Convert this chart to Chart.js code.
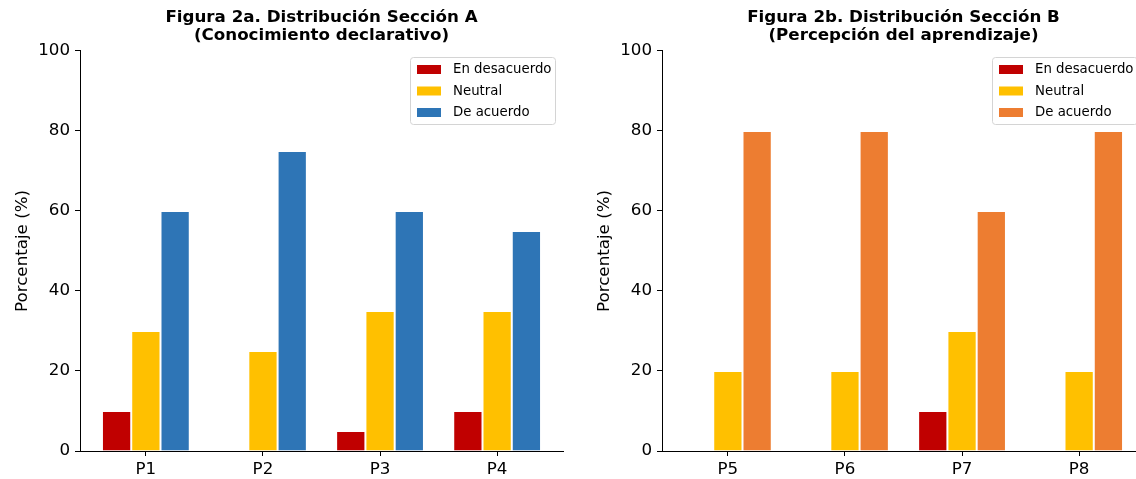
<!DOCTYPE html>
<html>
<head>
<meta charset="utf-8">
<script src="https://cdn.jsdelivr.net/npm/chart.js@4.4.1/dist/chart.umd.min.js"></script>
<style>
body{margin:0;width:1136px;height:479px;overflow:hidden;background:#fff;position:relative}
.box{position:absolute;top:0;width:600px;height:479px}
#boxA{left:0}
#boxB{left:582px}
</style>
</head>
<body>
<div class="box" id="boxA"><canvas id="chartA" width="600" height="479"></canvas></div>
<div class="box" id="boxB"><canvas id="chartB" width="600" height="479"></canvas></div>
<script>
// datos
const seriesLabels=["En desacuerdo","Neutral","De acuerdo"];
const yTicks=[0,20,40,60,80,100];

const categoriesA=["P1","P2","P3","P4"];
const desacuerdoA=[10,0,5,10];
const neutralA=[30,25,35,35];
const acuerdoA=[60,75,60,55];
const colorsA=["#C00000","#FFC000","#2E75B6"];

const categoriesB=["P5","P6","P7","P8"];
const desacuerdoB=[0,0,10,0];
const neutralB=[20,20,30,20];
const acuerdoB=[80,80,60,80];
const colorsB=["#C00000","#FFC000","#ED7D31"];

Chart.defaults.font.family="'DejaVu Sans'";
Chart.defaults.color="#000";

// leyenda tipo matplotlib, dentro del area
const legendBox={
    id:"legendBox",
    afterDraw(chart)
    {
        let ctx=chart.ctx;
        let area=chart.chartArea;
        ctx.save();
        ctx.font="13.3px 'DejaVu Sans'";
        let maxW=0;
        chart.data.datasets.forEach(function (d)
        {
            maxW=Math.max(maxW,ctx.measureText(d.label).width);
        });
        let w=Math.round(43+maxW+4), h=67;
        let x=Math.round(area.right-8-w), y=Math.round(area.top+6);
        ctx.beginPath();
        ctx.roundRect(x+0.5,y+0.5,w,h,3);
        ctx.fillStyle="rgba(255,255,255,0.8)";
        ctx.fill();
        ctx.strokeStyle="#d4d4d4";
        ctx.lineWidth=1;
        ctx.stroke();
        chart.data.datasets.forEach(function (d,i)
        {
            let cy=y+12.5+i*21.5;
            ctx.fillStyle=d.backgroundColor;
            ctx.fillRect(x+7,cy-4.5,24,9);
            ctx.fillStyle="#000";
            ctx.textBaseline="middle";
            ctx.textAlign="left";
            ctx.fillText(d.label,x+43,cy+0.5);
        });
        ctx.restore();
    }
};

function creaGrafico(id,titulo,cats,series,colors)
{
    let datasets=series.map(function (vals,k)
    {
        return {
            label:seriesLabels[k],
            data:vals.map(function (v,i){return {x:i,y:v};}),
            backgroundColor:colors[k],
            borderColor:"#fff",
            borderWidth:{left:1,right:1,top:1,bottom:0},
            borderSkipped:false,
            categoryPercentage:0.75,
            barPercentage:1.0
        };
    });
    return new Chart(document.getElementById(id),{
        type:"bar",
        data:{datasets:datasets},
        plugins:[legendBox],
        options:{
            responsive:false,
            animation:false,
            layout:{padding:{left:0,right:37,top:0,bottom:0}},
            plugins:{
                legend:{display:false},
                tooltip:{enabled:false},
                title:{
                    display:true,
                    text:titulo,
                    fullSize:false,
                    color:"#000",
                    font:{size:16.7,weight:"bold",lineHeight:1.12},
                    padding:{top:8,bottom:5.5}
                }
            },
            scales:{
                x:{
                    type:"linear",
                    offset:false,
                    min:-0.5625,
                    max:3.5625,
                    afterBuildTicks:function (s){s.ticks=cats.map(function (c,i){return {value:i};});},
                    afterFit:function (s){s.height=28;},
                    ticks:{
                        callback:function (v){return cats[v];},
                        color:"#000",
                        font:{size:16.7},
                        padding:4,
                        maxRotation:0,
                        autoSkip:false
                    },
                    grid:{offset:false,drawOnChartArea:false,drawTicks:true,tickLength:5,tickColor:"#000",tickWidth:1},
                    border:{color:"#000",width:1}
                },
                y:{
                    min:0,
                    max:100,
                    afterBuildTicks:function (s){s.ticks=yTicks.map(function (v){return {value:v};});},
                    afterFit:function (s){s.width=80;},
                    ticks:{color:"#000",font:{size:16.7},padding:5},
                    grid:{drawOnChartArea:false,drawTicks:true,tickLength:5,tickColor:"#000",tickWidth:1},
                    border:{color:"#000",width:1},
                    title:{
                        display:true,
                        text:"Porcentaje (%)",
                        color:"#000",
                        font:{size:16.7},
                        padding:{top:12.5,bottom:0}
                    }
                }
            }
        }
    });
}

creaGrafico("chartA",["Figura 2a. Distribución Sección A","(Conocimiento declarativo)"],
    categoriesA,[desacuerdoA,neutralA,acuerdoA],colorsA);
creaGrafico("chartB",["Figura 2b. Distribución Sección B","(Percepción del aprendizaje)"],
    categoriesB,[desacuerdoB,neutralB,acuerdoB],colorsB);
</script>
</body>
</html>
